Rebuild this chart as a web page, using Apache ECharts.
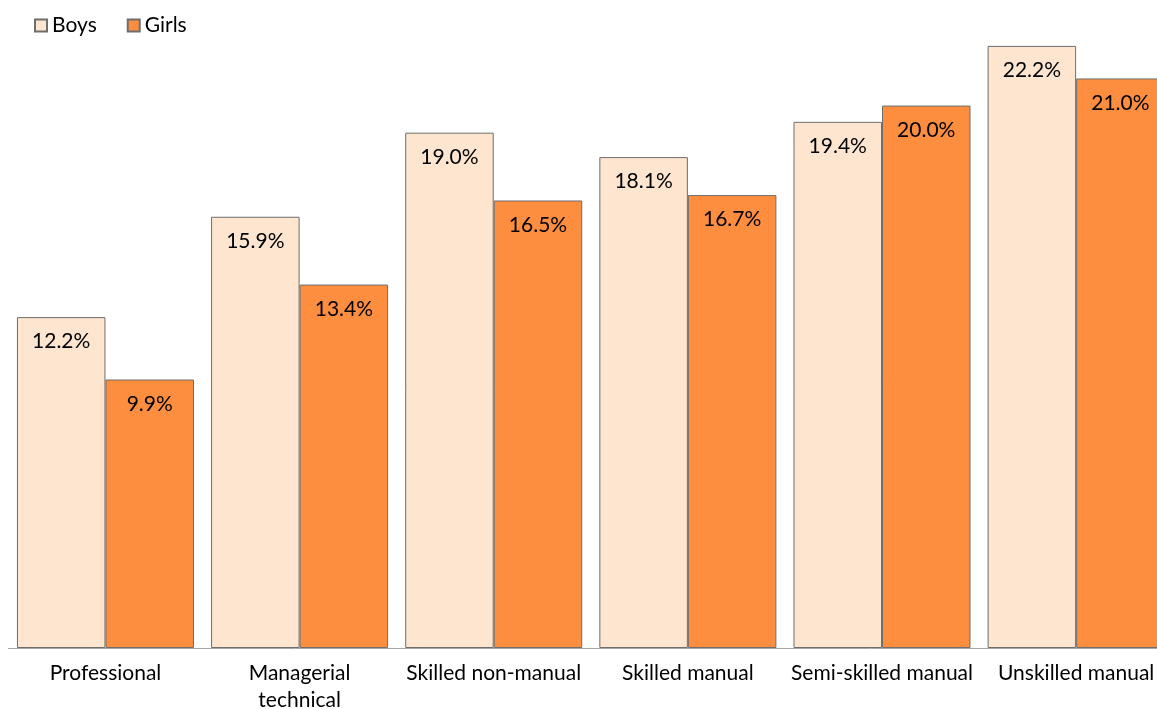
<!DOCTYPE html>
<html>
<head>
<meta charset="utf-8">
<style>
  html, body { margin: 0; padding: 0; background: #fff; }
  #chart { width: 1157px; height: 709px; }
</style>
<script src="https://cdn.jsdelivr.net/npm/echarts@6/dist/echarts.min.js"></script>
</head>
<body>
<div id="chart"></div>
<script>
// Occupational groups along the horizontal axis
const categories = [
  'Professional',
  'Managerial\ntechnical',
  'Skilled non-manual',
  'Skilled manual',
  'Semi-skilled manual',
  'Unskilled manual'
];

// Percentages per group
const boys  = [12.2, 15.9, 19.0, 18.1, 19.4, 22.2];
const girls = [9.9, 13.4, 16.5, 16.7, 20.0, 21.0];

const FONT = 'Lato, "Open Sans", "Noto Sans", sans-serif';

const chart = echarts.init(document.getElementById('chart'), null, { renderer: 'canvas' });

function barSeries(name, values, color) {
  return {
    name: name,
    type: 'bar',
    data: values,
    barGap: '0%',
    barCategoryGap: '8.8%',
    itemStyle: { color: color, borderColor: '#6e6e6e', borderWidth: 1 },
    label: {
      show: true,
      position: 'insideTop',
      distance: 14,
      color: '#000',
      fontFamily: FONT,
      fontSize: 21,
      formatter: p => p.value.toFixed(1) + '%'
    },
    emphasis: { disabled: true }
  };
}

chart.setOption({
  animation: false,
  textStyle: { fontFamily: FONT },
  legend: {
    left: 29,
    top: 10,
    itemWidth: 12,
    itemHeight: 12,
    itemGap: 30,
    icon: 'rect',
    textStyle: { fontFamily: FONT, fontSize: 21, color: '#000' },
    data: ['Boys', 'Girls']
  },
  grid: {
    left: 8.4,
    width: 1164.8,
    top: 24.2,
    bottom: 61,
    outerBoundsMode: 'none',
    containLabel: false
  },
  xAxis: {
    type: 'category',
    data: categories,
    axisTick: { show: false },
    axisLine: { lineStyle: { color: '#a6a6a6', width: 1 } },
    axisLabel: {
      interval: 0,
      margin: 12,
      color: '#000',
      fontFamily: FONT,
      fontSize: 21,
      lineHeight: 27
    }
  },
  yAxis: {
    type: 'value',
    min: 0,
    max: 23,
    show: false,
    splitLine: { show: false }
  },
  series: [
    barSeries('Boys', boys, '#FDE5CF'),
    barSeries('Girls', girls, '#FD8D3F')
  ]
});
</script>
</body>
</html>
